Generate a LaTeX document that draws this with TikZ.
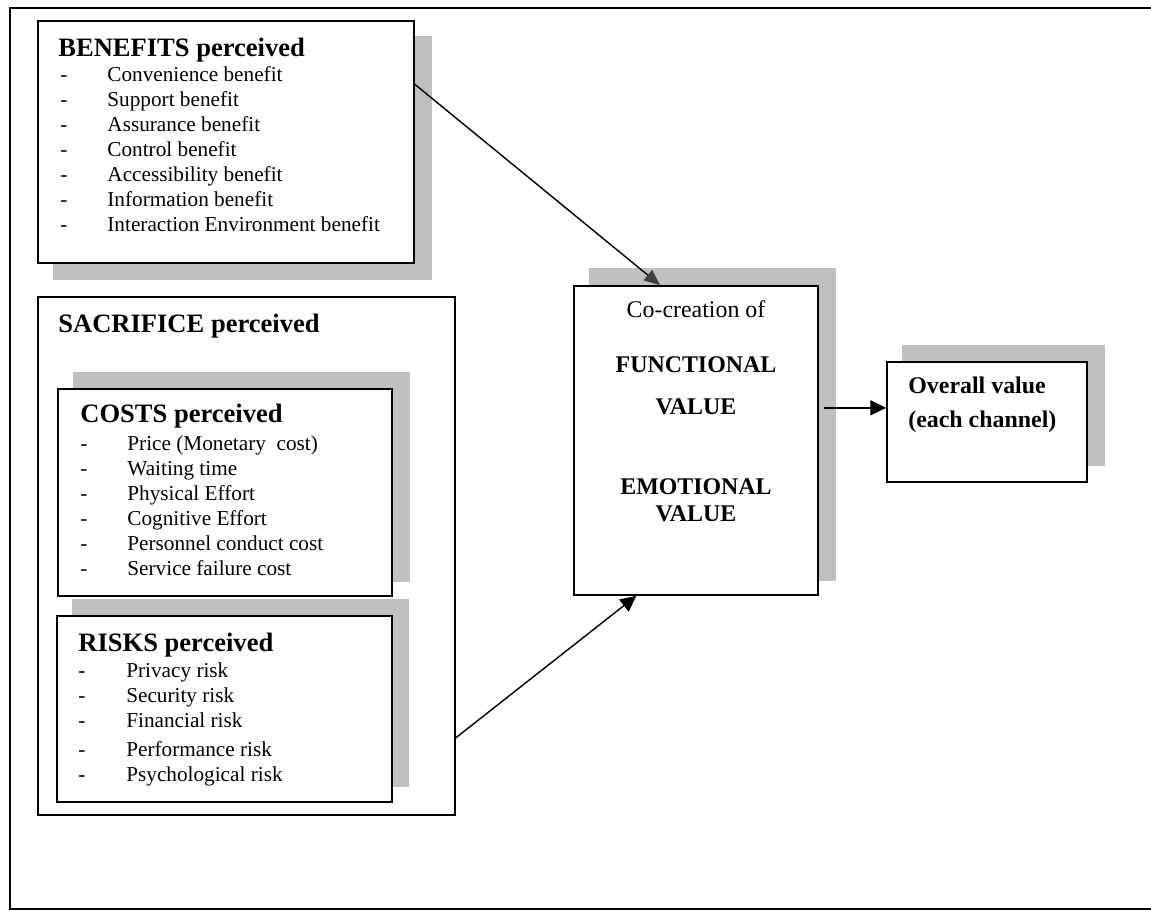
\documentclass[tikz,border=0pt]{standalone}
\usepackage{fontspec}
\setmainfont{Liberation Serif}
\usetikzlibrary{arrows.meta,fit}
\definecolor{shadowgray}{RGB}{192,192,192}
\definecolor{tipgray}{RGB}{64,64,64}
\tikzset{
  box/.style={draw, line width=0.9pt, fill=white, inner sep=0pt},
  shadowbox/.style={fill=shadowgray},
  arr/.style={line width=0.8pt, -{Triangle[length=9pt,width=8.5pt]}},
  head/.style={anchor=base west, inner sep=0pt, font=\fontsize{15}{18}\selectfont\bfseries},
  itemlist/.style={anchor=base west, inner sep=0pt, font=\fontsize{12}{14.1}\selectfont},
  bigtext/.style={inner sep=0pt, font=\fontsize{13.5}{15.25}\selectfont},
}
\begin{document}
\begin{tikzpicture}[x=0.565pt,y=0.565pt,yscale=-1,xscale=1]
\useasboundingbox (0,0) rectangle (1151,911);

%Shape: Frame
\draw [line width=0.9pt] (1151,8) -| (10,909) -- (1151,909) ;

%Shape: Rectangle (benefits)
\fill [shadowbox] (53,36) rectangle (432,280) ;
\node [box, fit={(38,21) (414,263)}] (benefits) {};
%Shape: Rectangle (sacrifice)
\node [box, line width=0.8pt, fit={(38,297) (455,815)}] (sacrifice) {};
%Shape: Rectangle (costs)
\fill [shadowbox] (73,372) rectangle (410,582) ;
\node [box, fit={(58,389) (392,596)}] (costs) {};
%Shape: Rectangle (risks)
\fill [shadowbox] (72,599) rectangle (409,787) ;
\node [box, fit={(57,616) (392,802)}] (risks) {};
%Shape: Rectangle (co-creation)
\fill [shadowbox] (589,268) rectangle (836,581) ;
\node [box, fit={(574,286) (818,595)}] (cocreation) {};
%Shape: Rectangle (overall)
\fill [shadowbox] (902,345) rectangle (1105,466) ;
\node [box, fit={(887,362) (1087,482)}] (overall) {};

% Text Node
\node [head] (benhead) at (58,57) {BENEFITS perceived};
% Text Node
\node [itemlist] (benlist) at (60,82) {\begin{tabular}[t]{@{}p{26.6pt}@{}l@{}}
- & Convenience benefit\\
- & Support benefit\\
- & Assurance benefit\\
- & Control benefit\\
- & Accessibility benefit\\
- & Information benefit\\
- & Interaction Environment benefit
\end{tabular}};
% Text Node
\node [head] (sachead) at (58,333) {SACRIFICE perceived};
% Text Node
\node [head] (costhead) at (80,423) {COSTS perceived};
% Text Node
\node [itemlist] (costlist) at (80,451) {\begin{tabular}[t]{@{}p{26.6pt}@{}l@{}}
- & Price (Monetary\ \ cost)\\
- & Waiting time\\
- & Physical Effort\\
- & Cognitive Effort\\
- & Personnel conduct cost\\
- & Service failure cost
\end{tabular}};
% Text Node
\node [head] (riskhead) at (78,652) {RISKS perceived};
% Text Node
\node [itemlist] (risklist) at (78,678) {\begin{tabular}[t]{@{}p{27.1pt}@{}l@{}}
- & Privacy risk\\
- & Security risk\\
- & Financial risk\\[2.3pt]
- & Performance risk\\
- & Psychological risk
\end{tabular}};
% Text Node
\node [bigtext, anchor=base] (cotext) at (696,318) {\begin{tabular}[t]{@{}c@{}}
Co-creation of\\[15.8pt]
\textbf{FUNCTIONAL}\\[8.5pt]
\textbf{VALUE}\\[29.4pt]
\textbf{EMOTIONAL}\\
\textbf{VALUE}
\end{tabular}};
% Text Node
\node [bigtext, anchor=base west, font=\fontsize{13.5}{15.25}\selectfont\bfseries] (overtext) at (908,394) {\begin{tabular}[t]{@{}l@{}}
Overall value\\[3.4pt]
(each channel)
\end{tabular}};

%Straight Lines
\draw [arr, -{Triangle[length=9pt,width=7.5pt,color=tipgray]}] (benefits.17.4) -- (cocreation.103.8) ;
%Straight Lines
\draw [arr] (sacrifice.-41.1) -- (cocreation.249.1) ;
%Straight Lines
\draw [arr, shorten <=3pt] (cocreation.east |- overall.172) -- (overall.172) ;

\end{tikzpicture}
\end{document}
